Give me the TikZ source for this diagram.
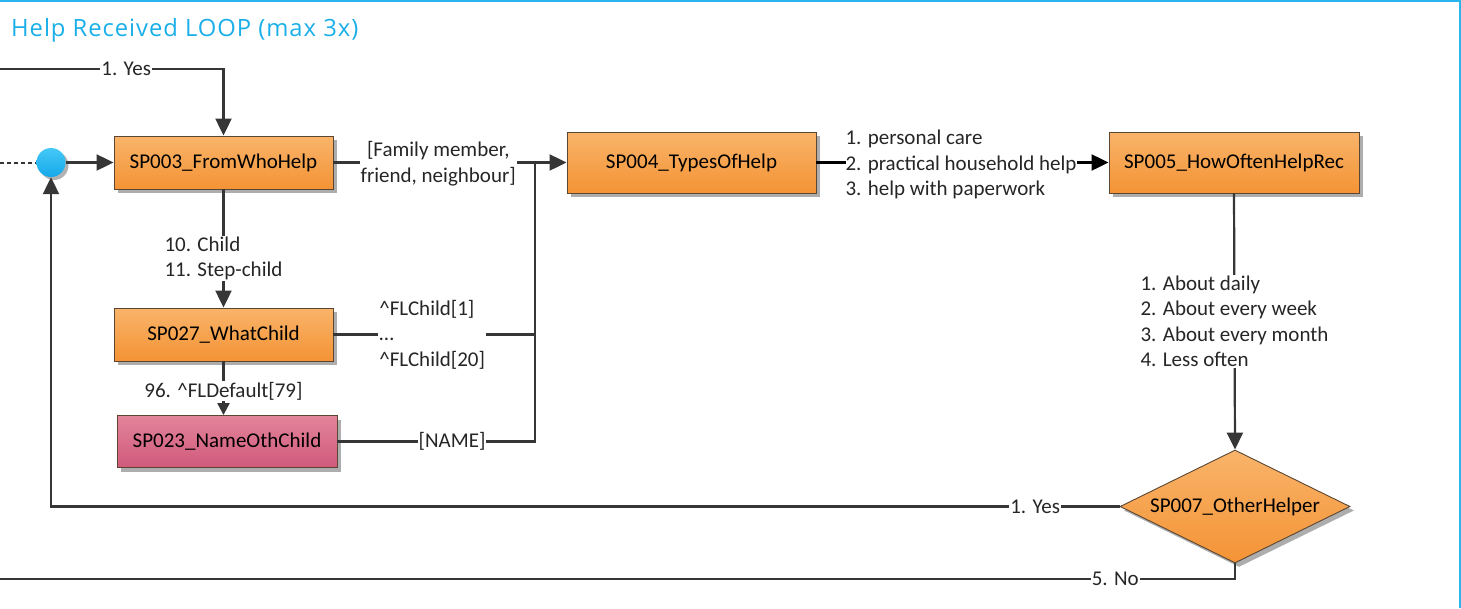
\documentclass[tikz,border=0pt]{standalone}
\usepackage{fontspec}
\setmainfont{Carlito}
\newfontfamily\titlefont[LetterSpace=4]{Open Sans}
\usetikzlibrary{shapes.geometric,arrows.meta,shadows}
\definecolor{cyanline}{HTML}{29B6EE}
\definecolor{titlecol}{HTML}{1AAFE8}
\definecolor{ortop}{HTML}{F9B46A}
\definecolor{orbot}{HTML}{F49335}
\definecolor{pktop}{HTML}{E2849A}
\definecolor{pkbot}{HTML}{D05A7B}
\definecolor{boxline}{HTML}{5A4632}
\definecolor{conncol}{HTML}{363636}
\definecolor{circtop}{HTML}{45C8F7}
\definecolor{circbot}{HTML}{15A9EA}
\tikzset{
  qbox/.style={draw=boxline, line width=0.9pt, top color=ortop, bottom color=orbot,
    font=\fontsize{21}{25.5}\selectfont, inner sep=0pt,
    drop shadow={shadow xshift=4pt, shadow yshift=-4pt, fill=black!32, opacity=1}},
  pbox/.style={qbox, top color=pktop, bottom color=pkbot},
  dbox/.style={qbox, diamond, aspect=2, inner sep=0pt},
  conn/.style={draw=conncol, line width=2.2pt},
  arr/.style={conn, -{Triangle[length=17pt,width=16pt]}},
  sarr/.style={conn, -{Triangle[length=12pt,width=12pt]}},
  lbl/.style={fill=white, inner sep=1pt, font=\fontsize{21}{25.5}\selectfont, align=left, text=black!85},
}
\begin{document}
\begin{tikzpicture}[x=1pt,y=-1pt]
\useasboundingbox (0,0) rectangle (1461,608);
% frame
\draw[cyanline, line width=1.5pt] (0,0.75) -- (1460,0.75);
\draw[cyanline, line width=1.5pt] (1460,0) -- (1460,608);
\node[anchor=west, text=titlecol, font=\titlefont\fontsize{23.8}{27}\selectfont, inner sep=0pt] (title) at (11,30.5) {Help Received LOOP (max 3x)};
% nodes
\node[qbox, minimum width=219pt, minimum height=53pt] (sp003) at (223.5,162.5) {SP003\_FromWhoHelp};
\node[qbox, minimum width=249pt, minimum height=61pt] (sp004) at (691.5,162.5) {SP004\_TypesOfHelp};
\node[qbox, minimum width=250pt, minimum height=61pt] (sp005) at (1234,162.5) {SP005\_HowOftenHelpRec};
\node[qbox, minimum width=219pt, minimum height=53pt] (sp027) at (223.5,334.5) {SP027\_WhatChild};
\node[pbox, minimum width=220pt, minimum height=52pt] (sp023) at (227,441.5) {SP023\_NameOthChild};
\node[dbox, minimum width=230pt, minimum height=113pt] (sp007) at (1235,506.5) {SP007\_OtherHelper};
\node[circle, minimum size=29pt, inner sep=0pt, top color=circtop, bottom color=circbot,
  drop shadow={shadow xshift=3pt, shadow yshift=-3pt, fill=black!30, opacity=1}] (circ) at (51,162.5) {};
% helper coordinates
\coordinate (tl) at (0,69);
\coordinate (dl) at (0,162.5);
\coordinate (bl) at (0,579);
\coordinate (j) at (535,162.5);
% connectors
\draw[arr] (tl) -- node[lbl,pos=0.565]{1. Yes} (sp003.north |- tl) -- (sp003.north);
\draw[draw=conncol, dash pattern=on 4pt off 3pt, line width=2pt] (dl) -- (circ.west);
\draw[arr] (circ) -- (sp003);
\draw[conn] (sp003.east) -- node[lbl, align=center, pos=0.52, yshift=-1pt]{[Family member,\\friend, neighbour]} (j);
\draw[arr] (j) -- (sp004.west);
\draw[conn] (sp027.east) -- node[lbl, pos=0.49]{\textasciicircum FLChild[1]\\\textellipsis\\\textasciicircum FLChild[20]} (sp027.east -| j) -- (j);
\draw[conn] (sp023.east) -- node[lbl, pos=0.58]{[NAME]} (sp023.east -| j) -- (j);
\draw[arr, draw=black] (sp004.east) -- node[lbl, pos=0.495, inner xsep=0pt, yshift=-2pt]{1. personal care\\2. practical household help\\3. help with paperwork} (sp005.west);
\draw[arr] (sp005.south) -- node[lbl, pos=0.5]{1. About daily\\2. About every week\\3. About every month\\4. Less often} (sp007.north);
\draw[arr] (sp003.south) -- node[lbl, pos=0.585]{10. Child\\11. Step-child} (sp027.north);
\draw[sarr] (sp027.south) -- node[lbl, pos=0.55]{96. \textasciicircum FLDefault[79]} (sp027.south |- sp023.north);
\draw[arr] (sp007.west) -- node[lbl, pos=0.079]{1. Yes} (sp007.west -| circ) -- (circ.south);
\draw[conn] (sp007.south) -- (sp007.south |- bl) -- node[lbl, pos=0.097]{5. No} (bl);
\end{tikzpicture}
\end{document}
